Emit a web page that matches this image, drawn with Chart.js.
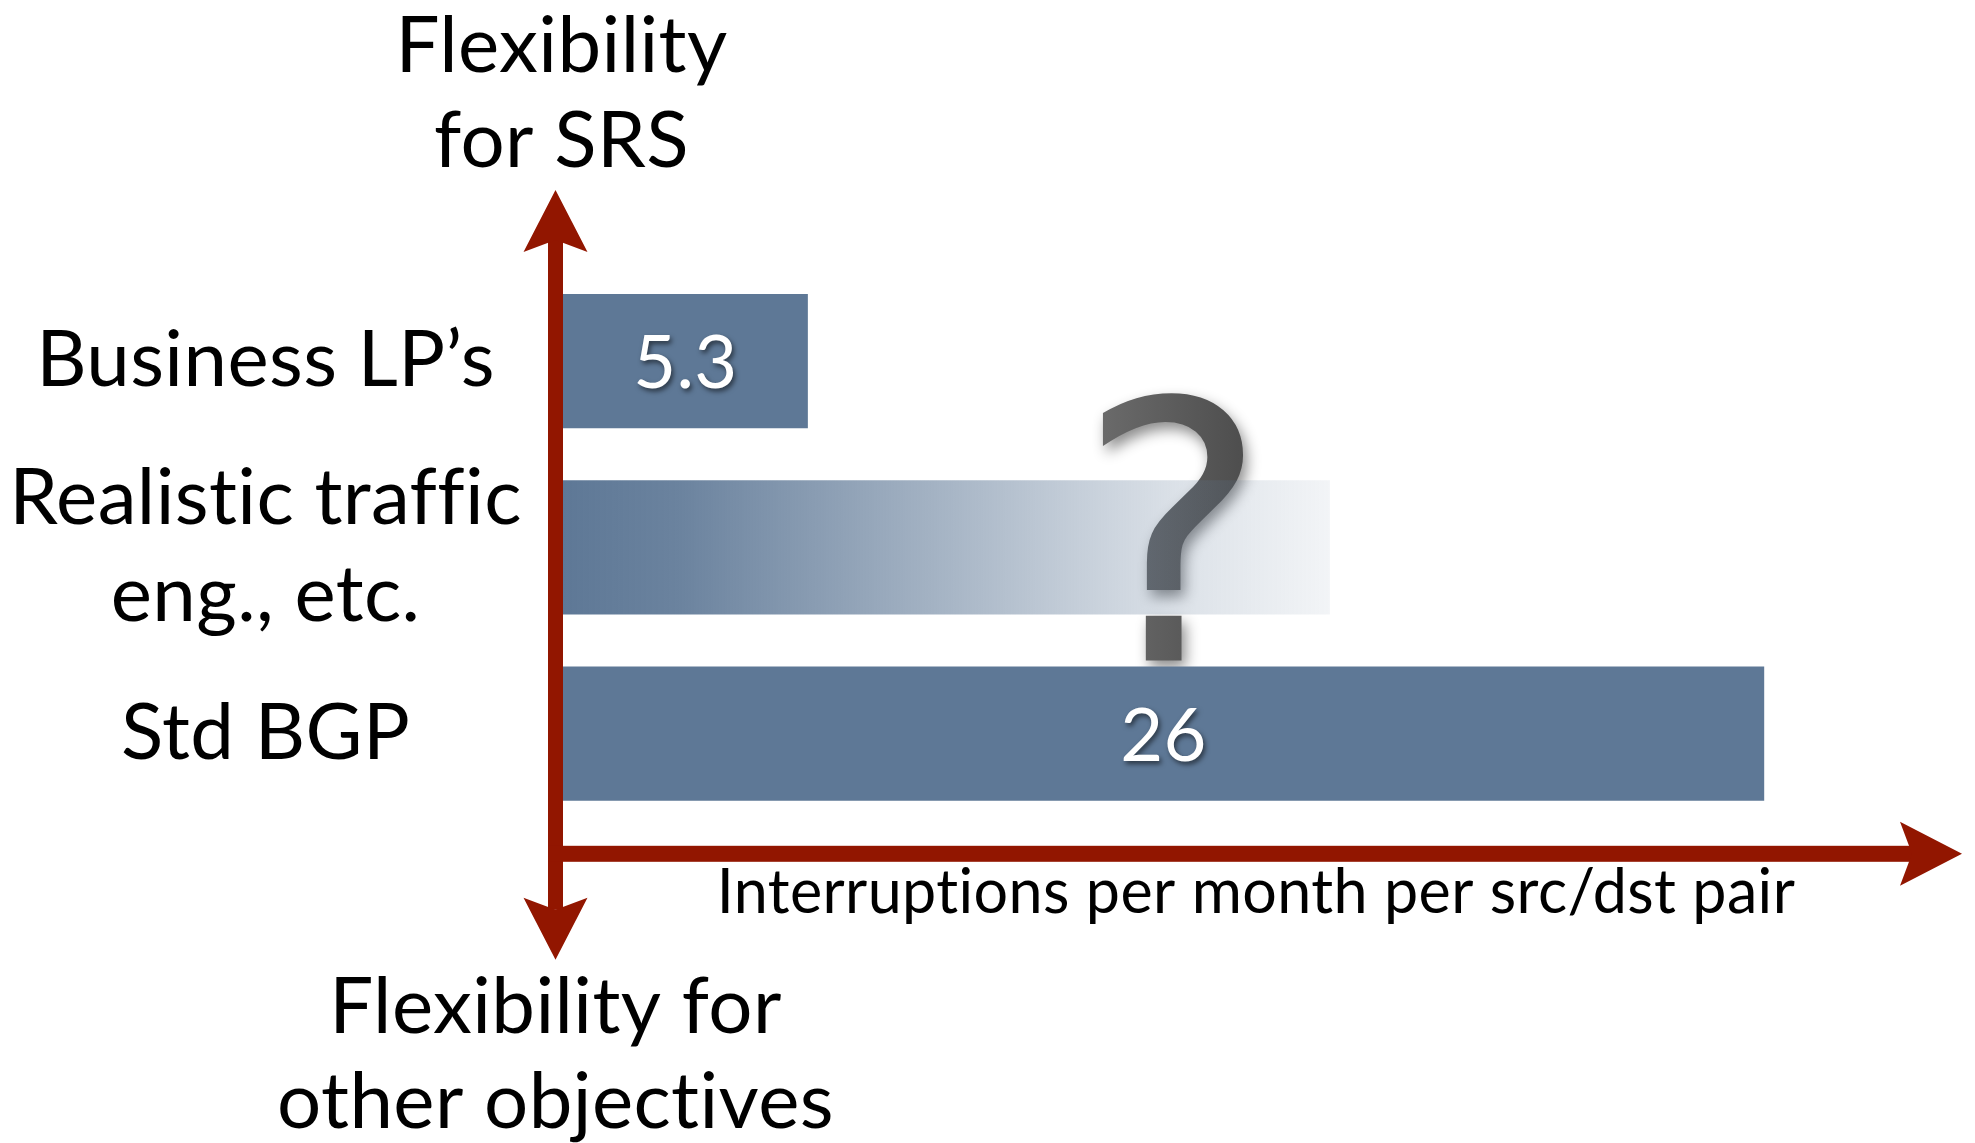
<!DOCTYPE html>
<html lang="en">
<head>
<meta charset="UTF-8">
<title>Interruptions per month per src/dst pair</title>
<script src="https://cdn.jsdelivr.net/npm/chart.js"></script>
<style>
    html, body { margin: 0; padding: 0; background: #ffffff; }
</style>
</head>
<body>
<canvas id="grafico" width="1975" height="1143"></canvas>

<script>
    // categories (one array per label, each entry is a line)
    const categories = [["Business LP\u2019s"], ["Realistic traffic", "eng., etc."], ["Std BGP"]];
    // interruptions per month per src/dst pair
    const values = [5.3, 16.6, 26];
    // the middle bar is only an estimate, so it gets a "?" instead of a number
    const showValue = [true, false, true];
    const topTitle = ["Flexibility", "for SRS"];
    const bottomTitle = ["Flexibility for", "other objectives"];
    const xTitle = "Interruptions per month per src/dst pair";
    const questionAt = 13.2;

    const FONT = "Lato, 'Open Sans', sans-serif";
    const RED = "#921600";
    const BLUE = "rgb(94, 120, 150)";

    function barColor(context) {
        if (context.dataIndex !== 1) return BLUE;
        const chart = context.chart;
        if (!chart.chartArea) return BLUE;
        const x = chart.scales.x;
        const g = chart.ctx.createLinearGradient(x.getPixelForValue(0), 0, x.getPixelForValue(values[1]), 0);
        g.addColorStop(0, "rgba(94, 120, 150, 1)");
        g.addColorStop(0.15, "rgba(94, 120, 150, 0.92)");
        g.addColorStop(0.5, "rgba(94, 120, 150, 0.55)");
        g.addColorStop(0.8, "rgba(94, 120, 150, 0.22)");
        g.addColorStop(1, "rgba(94, 120, 150, 0.08)");
        return g;
    }

    // notched arrow head pointing along (dx, dy)
    function arrowHead(ctx, tipX, tipY, dx, dy) {
        const len = 62, half = 32, notch = 12;
        const px = -dy, py = dx;
        const bx = tipX - dx * len, by = tipY - dy * len;
        ctx.beginPath();
        ctx.moveTo(tipX, tipY);
        ctx.lineTo(bx + px * half, by + py * half);
        ctx.lineTo(tipX - dx * (len - notch), tipY - dy * (len - notch));
        ctx.lineTo(bx - px * half, by - py * half);
        ctx.closePath();
        ctx.fill();
    }

    const decorations = {
        id: "decorations",
        beforeDraw(chart) {
            // a tiny letter spacing keeps Lato from joining "ti" / "fi"
            chart.ctx.letterSpacing = "0.4px";
        },
        beforeDatasetsDraw(chart) {
            // big question mark over the middle bar
            const ctx = chart.ctx;
            const x = chart.scales.x.getPixelForValue(questionAt);
            const y = chart.scales.y.getPixelForValue(1) + 113;
            ctx.save();
            ctx.font = "360px 'DejaVu Sans'";
            ctx.textAlign = "center";
            ctx.textBaseline = "alphabetic";
            const g = ctx.createLinearGradient(x - 80, 0, x + 80, 0);
            g.addColorStop(0, "#6c6c6c");
            g.addColorStop(1, "#4c4c4c");
            ctx.fillStyle = g;
            ctx.shadowColor = "rgba(0, 0, 0, 0.45)";
            ctx.shadowBlur = 14;
            ctx.shadowOffsetX = 4;
            ctx.shadowOffsetY = 7;
            ctx.fillText("?", x, y);
            ctx.restore();
        },
        afterDatasetsDraw(chart) {
            // value inside the bars
            const ctx = chart.ctx;
            const meta = chart.getDatasetMeta(0);
            ctx.save();
            ctx.font = "74px " + FONT;
            ctx.textAlign = "center";
            ctx.textBaseline = "middle";
            ctx.fillStyle = "#ffffff";
            ctx.shadowColor = "rgba(0, 0, 0, 0.55)";
            ctx.shadowBlur = 5;
            ctx.shadowOffsetX = 2;
            ctx.shadowOffsetY = 3;
            meta.data.forEach(function (bar, i) {
                if (!showValue[i]) return;
                ctx.fillText(String(values[i]), (bar.x + bar.base) / 2, bar.y + 3);
            });
            ctx.restore();
        },
        afterDraw(chart) {
            const ctx = chart.ctx;
            const a = chart.chartArea;
            const x0 = chart.scales.x.getPixelForValue(0);
            const cx = x0 - 7.5;
            const topTip = a.top - 78;
            const bottomTip = a.bottom + 133;
            const cy = a.bottom + 27;
            const rightTip = a.right + 13;

            ctx.save();
            ctx.fillStyle = RED;
            // vertical axis
            ctx.fillRect(cx - 7.5, topTip + 50, 15, bottomTip - topTip - 100);
            arrowHead(ctx, cx, topTip, 0, -1);
            arrowHead(ctx, cx, bottomTip, 0, 1);
            // horizontal axis
            ctx.fillRect(cx - 7.5, cy - 8, rightTip - 50 - (cx - 7.5), 16);
            arrowHead(ctx, rightTip, cy, 1, 0);

            // captions at both ends of the vertical axis
            ctx.fillStyle = "#000000";
            ctx.font = "78px " + FONT;
            ctx.textAlign = "center";
            ctx.textBaseline = "alphabetic";
            ctx.fillText(topTitle[0], cx + 6, a.top - 196);
            ctx.fillText(topTitle[1], cx + 6, a.top - 101);
            ctx.fillText(bottomTitle[0], cx, a.bottom + 206);
            ctx.fillText(bottomTitle[1], cx, a.bottom + 301);
            ctx.restore();
        }
    };

    function desenhar() {
        new Chart(document.getElementById("grafico"), {
            type: "bar",
            data: {
                labels: categories,
                datasets: [{
                    data: values,
                    backgroundColor: barColor,
                    borderWidth: 0,
                    barPercentage: 0.72,
                    categoryPercentage: 1
                }]
            },
            options: {
                indexAxis: "y",
                responsive: false,
                animation: false,
                layout: { padding: { top: 268, bottom: 213, left: 0, right: 26 } },
                plugins: {
                    legend: { display: false },
                    tooltip: { enabled: false }
                },
                scales: {
                    x: {
                        type: "linear",
                        min: 0,
                        max: 30,
                        grid: { display: false, drawTicks: false },
                        border: { display: false },
                        ticks: { display: false },
                        title: {
                            display: true,
                            text: xTitle,
                            color: "#000000",
                            font: { family: FONT, size: 61, lineHeight: 1.2 },
                            padding: { top: 30, bottom: 0 }
                        }
                    },
                    y: {
                        type: "category",
                        grid: { display: false, drawTicks: false },
                        border: { display: false },
                        ticks: {
                            color: "#000000",
                            font: { family: FONT, size: 78, lineHeight: 1.24 },
                            padding: 46,
                            crossAlign: "center",
                            autoSkip: false
                        },
                        afterFit: function (scale) {
                            scale.width = 563;
                        }
                    }
                }
            },
            plugins: [decorations]
        });
    }

    document.fonts.load("78px Lato").then(desenhar, desenhar);
</script>
</body>
</html>
